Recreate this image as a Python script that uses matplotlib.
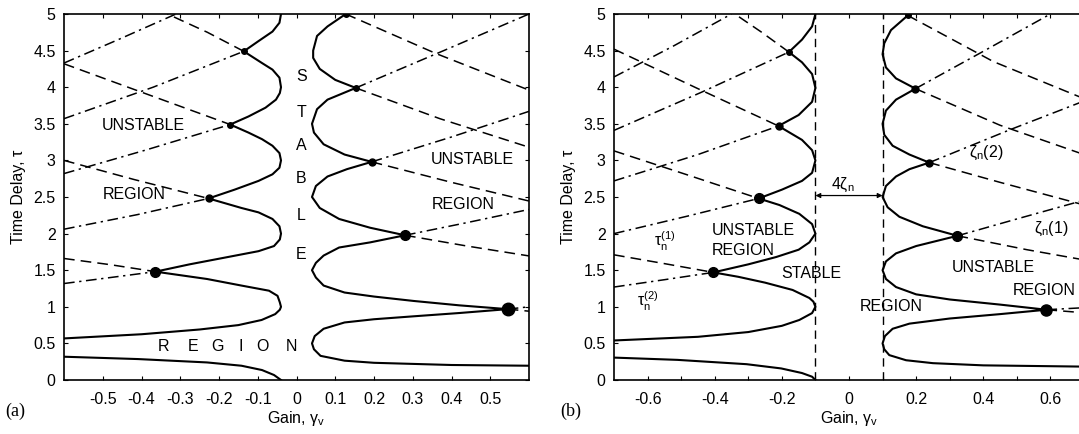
import numpy as np
import matplotlib
matplotlib.use('Agg')
import matplotlib.pyplot as plt

matplotlib.rcParams.update({'font.size': 11.5,
                            'font.family': 'Liberation Sans',
                            'mathtext.fontset': 'custom',
                            'mathtext.rm': 'Liberation Sans',
                            'mathtext.it': 'Liberation Sans',
                            'mathtext.default': 'regular'})

# ---------------- panel (a): zeta = 0.02 ----------------
# solid stability boundaries, (gain, delay) pairs
a_solid = [
    [(-0.6, 0.318), (-0.409, 0.286), (-0.231, 0.24), (-0.142, 0.195), (-0.089, 0.136),
     (-0.058, 0.068), (-0.04, 0.0)],
    [(-0.6, 0.568), (-0.4, 0.625), (-0.25, 0.69), (-0.15, 0.75), (-0.09, 0.82), (-0.055, 0.9),
     (-0.043, 0.96), (-0.04, 1.0), (-0.043, 1.06), (-0.049, 1.15), (-0.071, 1.22), (-0.142, 1.29),
     (-0.231, 1.38), (-0.364, 1.48),
     (-0.276, 1.58), (-0.187, 1.67), (-0.098, 1.76), (-0.058, 1.83), (-0.043, 1.92), (-0.04, 2.0),
     (-0.044, 2.1), (-0.062, 2.2), (-0.098, 2.29), (-0.142, 2.35), (-0.227, 2.48),
     (-0.16, 2.6), (-0.098, 2.72), (-0.062, 2.81), (-0.044, 2.9), (-0.04, 3.0),
     (-0.044, 3.1), (-0.062, 3.2), (-0.089, 3.29), (-0.124, 3.38), (-0.171, 3.49),
     (-0.124, 3.6), (-0.08, 3.72), (-0.053, 3.83), (-0.043, 3.92), (-0.04, 4.0),
     (-0.044, 4.13), (-0.062, 4.24), (-0.089, 4.33), (-0.136, 4.49),
     (-0.098, 4.63), (-0.062, 4.76), (-0.044, 4.88), (-0.04, 5.0)],
    [(0.6, 0.195), (0.4, 0.205), (0.2, 0.235), (0.124, 0.264), (0.062, 0.33), (0.045, 0.42),
     (0.04, 0.5), (0.047, 0.6), (0.07, 0.7), (0.124, 0.786), (0.2, 0.83), (0.302, 0.87),
     (0.42, 0.915), (0.545, 0.968),
     (0.42, 1.02), (0.302, 1.08), (0.2, 1.14), (0.124, 1.195), (0.07, 1.29), (0.05, 1.4),
     (0.04, 1.5), (0.05, 1.6), (0.07, 1.7), (0.11, 1.81), (0.19, 1.88), (0.28, 1.977),
     (0.19, 2.08), (0.11, 2.2), (0.06, 2.35), (0.04, 2.5), (0.05, 2.65), (0.08, 2.78),
     (0.13, 2.88), (0.194, 2.98),
     (0.124, 3.08), (0.07, 3.22), (0.045, 3.38), (0.04, 3.5), (0.053, 3.7), (0.08, 3.83),
     (0.153, 3.99),
     (0.1, 4.1), (0.06, 4.25), (0.043, 4.4), (0.043, 4.5), (0.053, 4.7), (0.08, 4.83),
     (0.127, 5.0)],
]
a_dashed = [
    [(-0.6, 1.66), (-0.48, 1.575), (-0.364, 1.48)],
    [(-0.6, 3.0), (-0.42, 2.74), (-0.227, 2.48)],
    [(-0.6, 4.32), (-0.404, 3.94), (-0.171, 3.49)],
    [(-0.136, 4.49), (-0.23, 4.75), (-0.333, 5.0)],
    [(0.545, 0.968), (0.6, 0.94)],
    [(0.28, 1.977), (0.44, 1.83), (0.6, 1.695)],
    [(0.194, 2.98), (0.4, 2.7), (0.6, 2.445)],
    [(0.153, 3.99), (0.37, 3.57), (0.6, 3.18)],
    [(0.127, 5.0), (0.36, 4.46), (0.6, 3.96)],
]
a_dashdot = [
    [(-0.6, 1.318), (-0.48, 1.4), (-0.364, 1.48)],
    [(-0.6, 2.06), (-0.41, 2.26), (-0.227, 2.48)],
    [(-0.6, 2.82), (-0.39, 3.14), (-0.171, 3.49)],
    [(-0.6, 3.57), (-0.37, 4.0), (-0.136, 4.49)],
    [(-0.6, 4.33), (-0.46, 4.65), (-0.311, 5.0)],
    [(0.545, 0.968), (0.6, 1.0)],
    [(0.28, 1.977), (0.44, 2.15), (0.6, 2.33)],
    [(0.194, 2.98), (0.4, 3.32), (0.6, 3.67)],
    [(0.153, 3.99), (0.38, 4.5), (0.6, 5.0)],
]
a_dots_g = [-0.364, -0.227, -0.171, -0.136, 0.545, 0.28, 0.194, 0.153, 0.127]
a_dots_t = [1.48, 2.48, 3.49, 4.49, 0.968, 1.977, 2.98, 3.99, 5.0]
a_dots_s = [7, 5, 4, 4, 9, 7, 5, 4, 4]
a_xticks = [-0.5, -0.4, -0.3, -0.2, -0.1, 0, 0.1, 0.2, 0.3, 0.4, 0.5]

# ---------------- panel (b): zeta = 0.05 ----------------
b_solid = [
    [(-0.7, 0.306), (-0.511, 0.275), (-0.305, 0.216), (-0.202, 0.158), (-0.14, 0.095),
     (-0.11, 0.045), (-0.1, 0.0)],
    [(-0.7, 0.54), (-0.45, 0.59), (-0.3, 0.655), (-0.2, 0.74), (-0.148, 0.82), (-0.11, 0.914),
     (-0.1, 1.0), (-0.106, 1.07), (-0.118, 1.12), (-0.168, 1.23), (-0.25, 1.33), (-0.33, 1.41),
     (-0.404, 1.47),
     (-0.3, 1.58), (-0.217, 1.68), (-0.15, 1.78), (-0.118, 1.88), (-0.1, 2.0),
     (-0.11, 2.13), (-0.148, 2.27), (-0.207, 2.39), (-0.269, 2.48),
     (-0.2, 2.6), (-0.14, 2.72), (-0.11, 2.83), (-0.1, 3.0),
     (-0.11, 3.14), (-0.14, 3.28), (-0.21, 3.47),
     (-0.15, 3.62), (-0.11, 3.8), (-0.1, 3.99),
     (-0.11, 4.18), (-0.14, 4.34), (-0.179, 4.48),
     (-0.14, 4.65), (-0.11, 4.83), (-0.1, 5.0)],
    [(0.75, 0.18), (0.4, 0.2), (0.25, 0.23), (0.17, 0.27), (0.12, 0.34), (0.105, 0.42),
     (0.1, 0.5), (0.107, 0.6), (0.13, 0.7), (0.18, 0.77), (0.3, 0.84), (0.45, 0.9), (0.588, 0.96),
     (0.45, 1.03), (0.3, 1.1), (0.2, 1.17), (0.14, 1.27), (0.11, 1.38), (0.1, 1.5),
     (0.11, 1.62), (0.14, 1.73), (0.2, 1.83), (0.323, 1.97),
     (0.22, 2.1), (0.15, 2.23), (0.115, 2.36), (0.1, 2.5), (0.11, 2.65), (0.14, 2.78),
     (0.18, 2.88), (0.239, 2.97),
     (0.18, 3.08), (0.13, 3.2), (0.105, 3.35), (0.1, 3.5), (0.11, 3.68), (0.14, 3.83),
     (0.198, 3.98),
     (0.14, 4.12), (0.11, 4.27), (0.1, 4.45), (0.105, 4.6), (0.125, 4.78), (0.175, 4.98)],
]
b_dashed = [
    [(-0.7, 1.71), (-0.55, 1.59), (-0.404, 1.47)],
    [(-0.7, 3.13), (-0.48, 2.8), (-0.269, 2.48)],
    [(-0.7, 4.52), (-0.45, 3.98), (-0.21, 3.47)],
    [(-0.179, 4.48), (-0.26, 4.75), (-0.34, 5.0)],
    [(0.588, 0.96), (0.75, 0.9)],
    [(0.323, 1.97), (0.53, 1.78), (0.75, 1.6)],
    [(0.239, 2.97), (0.45, 2.7), (0.75, 2.33)],
    [(0.198, 3.98), (0.45, 3.48), (0.75, 3.0)],
    [(0.175, 4.98), (0.43, 4.35), (0.75, 3.75)],
]
b_dashdot = [
    [(-0.7, 1.27), (-0.55, 1.37), (-0.404, 1.47)],
    [(-0.7, 2.0), (-0.48, 2.24), (-0.269, 2.48)],
    [(-0.7, 2.72), (-0.45, 3.08), (-0.21, 3.47)],
    [(-0.7, 3.41), (-0.44, 3.93), (-0.179, 4.48)],
    [(-0.7, 4.14), (-0.52, 4.57), (-0.35, 5.0)],
    [(0.588, 0.96), (0.75, 1.0)],
    [(0.323, 1.97), (0.5, 2.2), (0.75, 2.52)],
    [(0.239, 2.97), (0.48, 3.42), (0.75, 3.9)],
    [(0.198, 3.98), (0.4, 4.49), (0.6, 5.0)],
]
b_dots_g = [-0.404, -0.269, -0.21, -0.179, 0.588, 0.323, 0.239, 0.198, 0.175]
b_dots_t = [1.47, 2.48, 3.47, 4.48, 0.96, 1.97, 2.97, 3.98, 4.98]
b_dots_s = [7, 7, 5, 4, 8, 7, 5, 5, 4]
b_xticks = [-0.6, -0.5, -0.4, -0.3, -0.2, -0.1, 0, 0.1, 0.2, 0.3, 0.4, 0.5, 0.6]
b_xlabels = ['-0.6', '', '-0.4', '', '-0.2', '', '0', '', '0.2', '', '0.4', '', '0.6']
b_gap = [-0.1, 0.1]

yticks = [0, 0.5, 1, 1.5, 2, 2.5, 3, 3.5, 4, 4.5, 5]
ylabels = ['0', '0.5', '1', '1.5', '2', '2.5', '3', '3.5', '4', '4.5', '5']

DASH = (0, (7, 4))
DASHDOT = (0, (7, 3, 1.5, 3))

fig = plt.figure(figsize=(10.79, 4.34), dpi=100)
ax1 = fig.add_axes([64 / 1079, 54 / 434, 465 / 1079, 366 / 434])
ax2 = fig.add_axes([614 / 1079, 54 / 434, 470 / 1079, 366 / 434])


def draw(ax, solid, dashed, dashdot, dg, dt, ds):
    for c in solid:
        g, t = zip(*c)
        ax.plot(g, t, '-', color='k', lw=1.5, solid_joinstyle='round')
    for c in dashed:
        g, t = zip(*c)
        ax.plot(g, t, color='k', lw=1.1, linestyle=DASH)
    for c in dashdot:
        g, t = zip(*c)
        ax.plot(g, t, color='k', lw=1.1, linestyle=DASHDOT)
    for g, t, s in zip(dg, dt, ds):
        ax.plot(g, t, 'o', color='k', ms=s)
    ax.set_ylim(0, 5)
    ax.set_yticks(yticks)
    ax.set_yticklabels(ylabels)
    ax.tick_params(direction='in', top=True, right=True, length=3, width=0.8,
                   labelsize=11.5)
    ax.tick_params(axis='y', pad=6)
    ax.tick_params(axis='x', pad=9)
    for sp in ax.spines.values():
        sp.set_linewidth(1.2)
    ax.set_ylabel('Time Delay, τ', fontsize=11.5, labelpad=5)
    ax.set_xlabel(r'Gain, $\gamma_v$', fontsize=11.5, labelpad=1)


draw(ax1, a_solid, a_dashed, a_dashdot, a_dots_g, a_dots_t, a_dots_s)
ax1.set_xlim(-0.6, 0.6)
ax1.set_xticks(a_xticks)
ax1.set_xticklabels([f'{v:g}' for v in a_xticks])

draw(ax2, b_solid, b_dashed, b_dashdot, b_dots_g, b_dots_t, b_dots_s)
ax2.set_xlim(-0.7, 0.7)
ax2.set_xticks(b_xticks)
ax2.set_xticklabels(b_xlabels)
for g in b_gap:
    ax2.axvline(g, color='k', lw=1.0, linestyle=(0, (6, 4)))
ax2.annotate('', xy=(-0.1, 2.52), xytext=(0.1, 2.52),
             arrowprops=dict(arrowstyle='<|-|>', color='k', lw=0.9,
                             shrinkA=0, shrinkB=0, mutation_scale=7))

# text in panel (a)
tk = dict(fontsize=11.5, ha='center', va='center')
for ch, t in zip('STABLE', [4.15, 3.66, 3.2, 2.75, 2.25, 1.72]):
    ax1.text(0.012, t, ch, **tk)
for ch, g in zip('REGION', [-0.342, -0.267, -0.203, -0.145, -0.089, -0.013]):
    ax1.text(g, 0.455, ch, **tk)
ax1.text(-0.396, 3.48, 'UNSTABLE', **tk)
ax1.text(-0.418, 2.54, 'REGION', **tk)
ax1.text(0.453, 3.01, 'UNSTABLE', **tk)
ax1.text(0.431, 2.4, 'REGION', **tk)

# text in panel (b)
ax2.text(-0.409, 2.04, 'UNSTABLE', fontsize=11.5, ha='left', va='center')
ax2.text(-0.409, 1.77, 'REGION', fontsize=11.5, ha='left', va='center')
ax2.text(-0.113, 1.46, 'STABLE', **tk)
ax2.text(0.126, 1.01, 'REGION', **tk)
ax2.text(0.429, 1.54, 'UNSTABLE', **tk)
ax2.text(0.676, 1.22, 'REGION', fontsize=11.5, ha='right', va='center')
ax2.text(-0.017, 2.66, r'4$\zeta_n$', **tk)
ax2.text(-0.55, 1.9, r'$\tau_n^{(1)}$', **tk)
ax2.text(-0.6, 1.07, r'$\tau_n^{(2)}$', **tk)
ax2.text(0.408, 3.1, r'$\zeta_n$(2)', **tk)
ax2.text(0.603, 2.06, r'$\zeta_n$(1)', **tk)

fig.text(5 / 1079, 1 - 411 / 434, '(a)', family='Liberation Serif', fontsize=13, va='center')
fig.text(560 / 1079, 1 - 411 / 434, '(b)', family='Liberation Serif', fontsize=13, va='center')

fig.savefig('out.png', dpi=100)
